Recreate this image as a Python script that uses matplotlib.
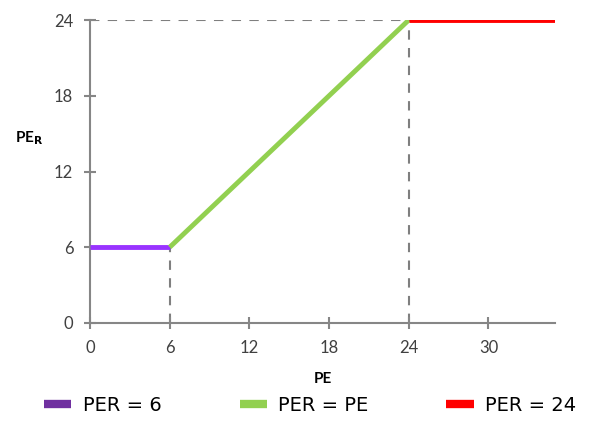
import matplotlib
matplotlib.use("Agg")
import matplotlib.pyplot as plt
from matplotlib.lines import Line2D

# segments of the piecewise PE_R function
low_x = [0, 6]
low_y = [6, 6]
mid_x = [6, 24]
mid_y = [6, 24]
high_x = [24, 35]
high_y = [24, 24]

xticks = [0, 6, 12, 18, 24, 30]
yticks = [0, 6, 12, 18, 24]
legend_labels = ["PER = 6", "PER = PE", "PER = 24"]

fig = plt.figure(figsize=(5.9, 4.22), dpi=100)
ax = fig.add_axes([0.1525, 0.2346, 0.788, 0.718])

grey = "#7f7f7f"
dash = (0, (4.5, 4))
# guide lines
ax.plot([6, 6], [0, 6], color=grey, lw=1.5, ls=dash, zorder=1)
ax.plot([24, 24], [0, 24], color=grey, lw=1.5, ls=dash, zorder=1)
ax.plot([0, 24], [24, 24], color=grey, lw=1.5, ls=dash, zorder=1)

ax.plot(low_x, low_y, color="#9933ff", lw=3.5, solid_capstyle="butt", zorder=3)
ax.plot(mid_x, mid_y, color="#92d050", lw=3.5, solid_capstyle="butt", zorder=3)
ax.plot(high_x, high_y, color="#ff0000", lw=3.5, solid_capstyle="butt", zorder=3)

ax.set_xlim(0, 35)
ax.set_ylim(0, 24)
ax.set_xticks(xticks)
ax.set_yticks(yticks)
for s in ["top", "right"]:
    ax.spines[s].set_visible(False)
for s in ["left", "bottom"]:
    ax.spines[s].set_color("#868686")
    ax.spines[s].set_linewidth(1.5)
    ax.spines[s].set_zorder(2)
ax.tick_params(direction="inout", length=8, width=1.5, color="#868686",
               labelsize=12, labelcolor="#404040")
ax.tick_params(axis="x", pad=8)
ax.tick_params(axis="y", pad=8)
for lab in ax.get_xticklabels() + ax.get_yticklabels():
    lab.set_family("Lato")

ax.set_xlabel("PE", fontsize=11, fontweight="bold", family="Lato", labelpad=12)
fig.text(0.025, 0.672, r"PE$_{\mathbf{R}}$", fontsize=11, fontweight="bold",
         family="Lato", ha="left", va="center")

handles = [
    Line2D([], [], color="#7030a0", lw=6, solid_capstyle="butt"),
    Line2D([], [], color="#92d050", lw=6, solid_capstyle="butt"),
    Line2D([], [], color="#ff0000", lw=6, solid_capstyle="butt"),
]
fig.legend(handles, legend_labels, loc="center", bbox_to_anchor=(0.526, 0.04),
           ncol=3, frameon=False, fontsize=14, handlelength=1.4,
           handletextpad=0.6, columnspacing=4.0)

fig.savefig("out.png", dpi=100)
